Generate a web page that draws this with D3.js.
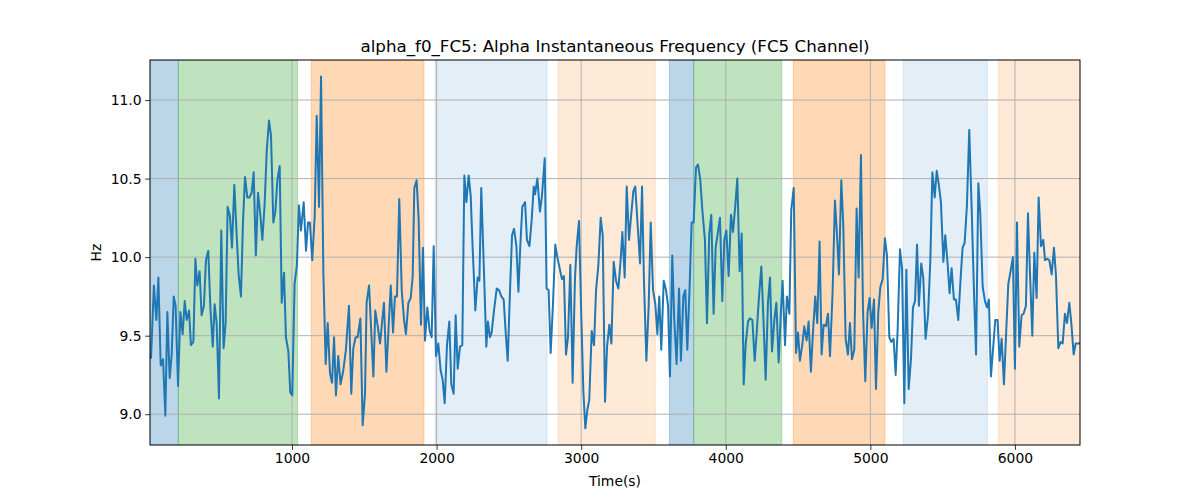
<!DOCTYPE html>
<html><head><meta charset="utf-8">
<script src="https://cdn.jsdelivr.net/npm/d3@7"></script>
<style>
html,body{margin:0;padding:0;background:#fff;}
text{font-family:"DejaVu Sans",sans-serif;fill:#000;}
</style></head>
<body>
<svg id="chart" width="1200" height="500"></svg>
<script>
const times = [25,45,62,76,92,108,124,138,154,168,182,195,212,228,244,258,272,288,301,318,332,345,361,375,391,405,421,435,452,465,479,495,511,527,541,555,571,585,601,618,631,647,661,675,691,705,721,735,750,765,781,795,811,825,841,855,871,885,899,915,929,945,958,975,988,1002,1018,1034,1048,1062,1081,1097,1111,1124,1140,1157,1171,1187,1201,1217,1233,1247,1263,1277,1291,1304,1320,1336,1355,1373,1394,1410,1424,1440,1454,1473,1489,1505,1516,1533,1563,1576,1593,1609,1636,1653,1669,1683,1699,1712,1726,1742,1759,1775,1788,1805,1821,1835,1846,1862,1876,1892,1906,1920,1936,1952,1966,1980,1996,2012,2028,2042,2056,2072,2088,2102,2118,2132,2146,2162,2178,2192,2206,2222,2236,2249,2268,2284,2296,2309,2328,2344,2355,2369,2381,2397,2416,2432,2448,2464,2478,2492,2508,2522,2536,2552,2566,2579,2593,2612,2625,2642,2658,2672,2681,2697,2715,2729,2748,2761,2775,2789,2805,2821,2835,2851,2867,2881,2895,2909,2925,2941,2957,2969,2985,2999,3015,3029,3043,3056,3073,3089,3103,3119,3135,3149,3165,3179,3195,3209,3225,3241,3257,3273,3285,3301,3315,3331,3345,3361,3374,3391,3407,3421,3434,3451,3467,3481,3497,3513,3527,3540,3554,3571,3587,3601,3614,3630,3644,3660,3677,3690,3707,3720,3734,3750,3764,3778,3794,3808,3824,3838,3856,3870,3886,3900,3916,3930,3946,3960,3976,3990,4004,4020,4036,4050,4066,4080,4096,4110,4124,4138,4154,4168,4184,4200,4214,4230,4246,4260,4276,4292,4306,4320,4336,4350,4366,4380,4393,4410,4423,4440,4453,4470,4486,4500,4513,4529,4543,4559,4573,4589,4603,4619,4633,4649,4663,4677,4693,4707,4721,4739,4755,4769,4783,4799,4813,4829,4845,4859,4873,4889,4905,4919,4935,4949,4965,4981,4995,5009,5025,5039,5055,5069,5085,5101,5115,5131,5145,5161,5175,5189,5205,5219,5235,5249,5265,5281,5295,5309,5323,5336,5352,5366,5382,5399,5415,5429,5445,5459,5475,5488,5505,5518,5535,5548,5562,5578,5592,5608,5624,5638,5652,5668,5684,5701,5717,5731,5747,5760,5777,5793,5807,5820,5834,5850,5864,5880,5894,5908,5924,5938,5954,5970,5986,6000,6014,6030,6046,6060,6076,6090,6104,6120,6134,6150,6164,6180,6196,6208,6224,6238,6254,6270,6284,6300,6316,6330,6346,6360,6376,6390,6406,6420,6436,6450];
const hz = [9.36,9.82,9.60,9.87,9.31,9.35,8.99,9.65,9.23,9.38,9.75,9.69,9.18,9.65,9.51,9.72,9.60,9.66,9.44,9.46,9.99,9.82,9.91,9.63,9.69,9.98,10.04,9.69,9.43,9.70,9.58,9.10,10.17,9.42,9.58,10.32,10.26,10.06,10.46,10.13,9.89,9.75,10.22,10.51,10.38,10.38,10.41,10.54,10.01,10.41,10.27,10.11,10.34,10.67,10.87,10.77,10.22,10.29,10.49,10.58,9.71,9.90,9.49,9.40,9.14,9.12,9.83,9.95,10.33,10.17,10.35,10.04,10.22,10.22,9.98,10.26,10.90,10.32,11.15,9.90,9.32,9.58,9.26,9.20,9.49,9.12,9.37,9.19,9.28,9.41,9.69,9.13,9.42,9.49,9.49,9.61,8.93,9.13,9.71,9.82,9.24,9.66,9.56,9.45,9.71,9.27,9.57,9.82,9.52,9.75,9.75,10.37,9.79,9.60,9.51,9.71,9.74,9.88,10.44,10.49,10.24,9.57,10.06,9.47,9.68,9.53,9.49,10.07,9.37,9.45,9.28,9.22,9.07,9.44,9.59,9.19,9.13,9.63,9.29,9.43,9.44,10.52,10.35,10.52,10.39,10.07,9.66,9.87,9.85,10.44,9.90,9.43,9.59,9.49,9.52,9.66,9.80,9.79,9.75,9.73,9.52,9.34,9.79,10.14,10.18,10.07,9.78,10.07,10.32,10.35,10.11,10.07,10.24,10.45,10.40,10.50,10.29,10.39,10.63,9.80,9.79,9.39,9.70,10.08,10.00,9.93,9.86,9.88,9.38,9.49,9.95,9.20,9.86,10.07,10.23,9.69,9.15,8.91,9.03,9.09,9.53,9.44,9.79,9.95,10.25,10.14,9.08,9.43,9.57,9.45,9.97,9.85,9.80,9.98,10.16,9.87,10.45,10.11,10.26,10.42,10.45,10.20,9.96,10.45,9.86,9.34,9.69,10.22,9.79,9.70,9.51,9.75,9.41,9.85,9.79,9.69,9.24,10.01,9.60,9.32,9.80,9.34,9.75,9.79,9.41,9.81,10.22,10.22,10.57,10.59,10.49,10.30,10.11,9.58,10.15,10.27,9.64,10.06,10.16,10.25,9.72,10.11,10.17,9.88,10.27,10.16,10.33,10.50,9.91,10.15,9.19,9.45,9.59,9.61,9.60,9.34,9.52,9.75,9.94,9.62,9.22,9.71,9.87,9.40,9.60,9.71,9.33,9.62,9.85,9.44,9.75,9.64,10.30,10.44,9.39,9.52,9.34,9.44,9.56,9.47,9.59,9.27,9.52,9.75,9.58,10.10,9.38,9.57,9.56,9.64,9.37,9.78,10.36,10.15,9.89,10.49,10.20,9.48,9.38,9.58,9.35,9.41,10.31,9.87,10.65,9.67,9.21,9.65,9.74,9.55,9.73,9.16,9.65,9.81,9.86,10.12,10.01,9.49,9.46,9.48,9.25,9.54,10.05,9.93,9.07,9.92,9.16,9.35,9.68,9.72,10.08,9.69,9.96,9.87,9.48,9.63,9.98,10.54,10.38,10.55,10.45,10.35,9.97,10.14,9.95,9.77,9.93,9.73,9.73,9.60,9.86,10.06,10.09,10.33,10.81,10.30,9.77,9.38,10.47,10.28,9.81,9.72,9.68,9.73,9.24,9.43,9.60,9.60,9.34,9.48,9.19,9.49,9.83,9.91,10.00,9.29,10.22,9.43,9.63,9.64,9.69,10.28,9.90,9.50,10.03,9.74,10.38,10.07,10.11,9.98,9.99,9.98,9.89,10.06,9.88,9.42,9.46,9.45,9.64,9.58,9.71,9.58,9.38,9.45,9.45,9.45];

const spanStarts = [18, 214, 1133, 1989, 2840, 3610, 3778, 4467, 5228, 5885];
const spanEnds   = [214, 1039, 1913, 2764, 3513, 3778, 4387, 5101, 5811, 6460];
const spanKinds  = ["blue", "green", "orange", "lightblue", "lightorange", "blue", "green", "orange", "lightblue", "lightorange"];

const xTicks = [1000, 2000, 3000, 4000, 5000, 6000];
const yTicks = [9.0, 9.5, 10.0, 10.5, 11.0];
const xDomain = [18, 6450];
const yDomain = [8.804, 11.255];

const kindStyle = {
  blue: {c: "#1f77b4", a: 0.3},
  green: {c: "#2ca02c", a: 0.3},
  orange: {c: "#ff7f0e", a: 0.3},
  lightblue: {c: "#1f77b4", a: 0.12},
  lightorange: {c: "#ff7f0e", a: 0.16}
};

const W = 1200, H = 500;
const m = {left: 150, top: 60, right: 120, bottom: 55};
const iw = W - m.left - m.right, ih = H - m.top - m.bottom;

const svg = d3.select("#chart");
const g = svg.append("g").attr("transform", `translate(${m.left},${m.top})`);

const x = d3.scaleLinear().domain(xDomain).range([0, iw]);
const y = d3.scaleLinear().domain(yDomain).range([ih, 0]);

g.append("defs").append("clipPath").attr("id", "clip")
  .append("rect").attr("width", iw).attr("height", ih);

const plot = g.append("g").attr("clip-path", "url(#clip)");

// spans
plot.selectAll("rect.span").data(spanStarts.map((s, i) => ({s, e: spanEnds[i], k: spanKinds[i]})))
  .enter().append("rect").attr("class", "span")
  .attr("x", d => x(d.s)).attr("y", 0)
  .attr("width", d => x(d.e) - x(d.s)).attr("height", ih)
  .attr("fill", d => kindStyle[d.k].c).attr("fill-opacity", d => kindStyle[d.k].a)
  .attr("stroke", d => kindStyle[d.k].c).attr("stroke-opacity", d => kindStyle[d.k].a)
  .attr("stroke-width", 1);

// grid
plot.selectAll("line.gx").data(xTicks).enter().append("line")
  .attr("x1", d => x(d)).attr("x2", d => x(d)).attr("y1", 0).attr("y2", ih)
  .attr("stroke", "#b0b0b0").attr("stroke-width", 1);
plot.selectAll("line.gy").data(yTicks).enter().append("line")
  .attr("y1", d => y(d)).attr("y2", d => y(d)).attr("x1", 0).attr("x2", iw)
  .attr("stroke", "#b0b0b0").attr("stroke-width", 1);

// line
const pts = times.map((t, i) => [t, hz[i]]);
plot.append("path").datum(pts)
  .attr("fill", "none").attr("stroke", "#1f77b4").attr("stroke-width", 2)
  .attr("stroke-linejoin", "round").attr("stroke-linecap", "square")
  .attr("d", d3.line().x(d => x(d[0])).y(d => y(d[1])));

// axes
const xAxis = g.append("g").attr("transform", `translate(0,${ih})`)
  .call(d3.axisBottom(x).tickValues(xTicks).tickFormat(d3.format("d")).tickSizeOuter(0).tickSize(4.9).tickPadding(3.5));
const yAxis = g.append("g")
  .call(d3.axisLeft(y).tickValues(yTicks).tickFormat(d3.format(".1f")).tickSizeOuter(0).tickSize(4.9).tickPadding(3.5));
[xAxis, yAxis].forEach(a => {
  a.select(".domain").remove();
  a.selectAll("line").attr("stroke", "#000").attr("stroke-width", 0.8);
  a.selectAll("text").attr("font-size", "13.9px").attr("font-family", "DejaVu Sans").attr("fill", "#000");
});

// frame
g.append("rect").attr("width", iw).attr("height", ih)
  .attr("fill", "none").attr("stroke", "#000").attr("stroke-width", 1);

// labels
svg.append("text").attr("x", m.left + iw / 2).attr("y", 52)
  .attr("text-anchor", "middle").attr("font-size", "16.7px")
  .text("alpha_f0_FC5: Alpha Instantaneous Frequency (FC5 Channel)");
svg.append("text").attr("x", m.left + iw / 2).attr("y", 486)
  .attr("text-anchor", "middle").attr("font-size", "13.9px").text("Time(s)");
svg.append("text").attr("transform", `translate(101,${m.top + ih / 2}) rotate(-90)`)
  .attr("text-anchor", "middle").attr("font-size", "13.9px").text("Hz");
</script>
</body></html>
